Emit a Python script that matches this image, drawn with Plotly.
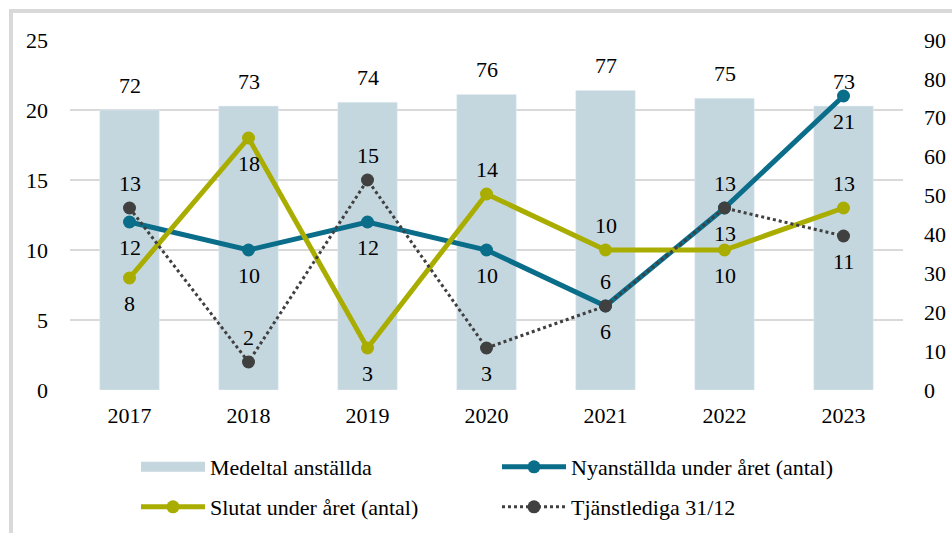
import plotly.graph_objects as go

years = ["2017", "2018", "2019", "2020", "2021", "2022", "2023"]
medeltal = [72, 73, 74, 76, 77, 75, 73]
nyanstallda = [12, 10, 12, 10, 6, 13, 21]
slutat = [8, 18, 3, 14, 10, 10, 13]
tjanstlediga = [13, 2, 15, 3, 6, 13, 11]
left_ticks = [0, 5, 10, 15, 20, 25]
right_ticks = [0, 10, 20, 30, 40, 50, 60, 70, 80, 90]

# label direction per point: 1 above, -1 below
ny_dir = [-1, -1, -1, -1, -1, -1, -1]
sl_dir = [-1, -1, -1, 1, 1, -1, 1]
tj_dir = [1, 1, 1, -1, 1, 1, -1]

W, H = 952, 533
ML, MR, MT, MB = 70, 49, 40, 143
PW, PH = W - ML - MR, H - MT - MB

def px_x(p):
    return (p - ML) / PW

def px_y(p):
    return (H - MB - p) / PH

FONT = "Liberation Serif, Times New Roman, serif"
FS = 22
BAR_C = "#c5d7de"
BLUE = "#0a6d8a"
OLIVE = "#a9ad00"
GRAY = "#404040"

fig = go.Figure()
# bars on the primary (right-hand) axis so that they sit below the lines
fig.add_trace(go.Bar(x=years, y=medeltal, name="Medeltal anställda", marker_color=BAR_C,
                     width=0.5, yaxis="y", showlegend=False))
# legend entry for the bars drawn as a wide band
fig.add_trace(go.Scatter(x=[None], y=[None], name="Medeltal anställda", mode="lines",
                         line=dict(color=BAR_C, width=10), yaxis="y", legend="legend"))
fig.add_trace(go.Scatter(x=years, y=nyanstallda, name="Nyanställda under året (antal)",
                         mode="lines+markers", line=dict(color=BLUE, width=5),
                         marker=dict(size=13, color=BLUE), yaxis="y2", legend="legend"))
fig.add_trace(go.Scatter(x=years, y=slutat, name="Slutat under året (antal)",
                         mode="lines+markers", line=dict(color=OLIVE, width=5),
                         marker=dict(size=13, color=OLIVE), yaxis="y2", legend="legend2"))
fig.add_trace(go.Scatter(x=years, y=tjanstlediga, name="Tjänstlediga 31/12",
                         mode="lines+markers", line=dict(color=GRAY, width=3, dash="dot"),
                         marker=dict(size=13, color=GRAY), yaxis="y2", legend="legend2"))

ann = []
SH = 25
for i, yr in enumerate(years):
    ann.append(dict(x=i, y=medeltal[i], yref="y", text=str(medeltal[i]), yshift=SH))
    ann.append(dict(x=i, y=nyanstallda[i], yref="y2", text=str(nyanstallda[i]), yshift=SH * ny_dir[i]))
    ann.append(dict(x=i, y=slutat[i], yref="y2", text=str(slutat[i]), yshift=SH * sl_dir[i]))
    ann.append(dict(x=i, y=tjanstlediga[i], yref="y2", text=str(tjanstlediga[i]), yshift=SH * tj_dir[i]))
for a in ann:
    a["xref"] = "x"
    a["showarrow"] = False
    a["font"] = dict(family=FONT, size=FS, color="#000")

leg_common = dict(orientation="h", xanchor="left", yanchor="middle",
                  entrywidth=282, entrywidthmode="pixels", font=dict(size=FS),
                  itemwidth=64, bgcolor="rgba(0,0,0,0)")

fig.update_layout(
    width=W, height=H,
    margin=dict(l=ML, r=MR, t=MT, b=MB, autoexpand=False),
    paper_bgcolor="white", plot_bgcolor="white",
    font=dict(family=FONT, size=FS, color="#000"),
    annotations=ann,
    xaxis=dict(type="category", categoryorder="array", categoryarray=years,
               range=[-0.5, len(years) - 0.5], showgrid=False, showline=False, ticks="",
               ticklabelstandoff=10, tickfont=dict(size=FS)),
    yaxis=dict(range=[0, 90], tickvals=right_ticks, side="right",
               showgrid=False, zeroline=False, showline=False, ticklabelstandoff=20,
               tickfont=dict(size=FS)),
    yaxis2=dict(range=[0, 25], tickvals=left_ticks, overlaying="y", side="left",
                showgrid=True, gridcolor="#d9d9d9", gridwidth=2, zeroline=False,
                showline=False, ticklabelstandoff=21, tickfont=dict(size=FS)),
    legend=dict(leg_common, x=px_x(136), y=px_y(467)),
    legend2=dict(leg_common, x=px_x(136), y=px_y(507)),
    shapes=[dict(type="rect", xref="paper", yref="paper", x0=px_x(11), x1=px_x(1100),
                 y0=px_y(700), y1=px_y(11), line=dict(color="#d9d9d9", width=4),
                 fillcolor="rgba(0,0,0,0)", layer="below")],
)

fig.write_html("out.html")
